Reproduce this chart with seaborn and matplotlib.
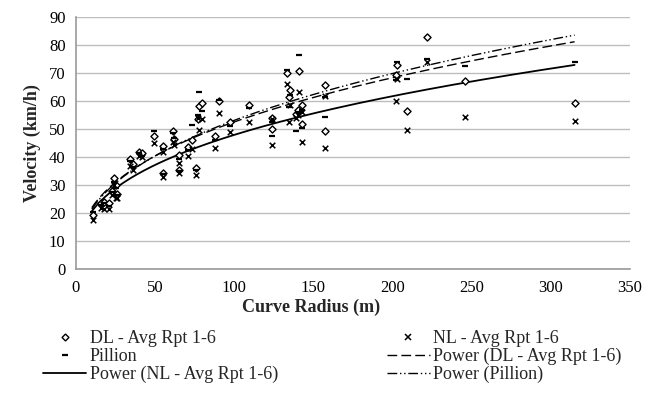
import numpy as np
import pandas as pd
import matplotlib
matplotlib.use("Agg")
import matplotlib.pyplot as plt
import seaborn as sns
from matplotlib.lines import Line2D

# ---- data ----
radius = [11, 16, 18, 21, 23, 24, 25, 26, 34, 36, 40, 42, 49, 55, 55, 61, 62, 65, 65,
          71, 73, 76, 77, 78, 79.5, 88, 90.5, 97, 109, 124, 124, 133, 134.7, 135.5,
          139, 140, 141, 143, 143, 157, 157, 202, 203, 209, 222, 246, 315]
dl = [19.2, 23.5, 24.0, 23.5, 28.0, 32.5, 30.0, 27.0, 39.5, 37.5, 42.0, 41.5, 47.5, 44.0, 34.5,
      49.5, 46.5, 40.8, 35.3, 43.8, 46.2, 36.3, 53.6, 58.4, 59.3, 47.4, 60.0, 52.5, 58.7,
      53.9, 50.0, 70.0, 61.4, 64.0, 55.5, 57.0, 70.6, 58.7, 51.9, 65.6, 49.2, 69.4, 73.0,
      56.5, 83.0, 67.0, 59.5]
nl = [17.5, 22.0, 21.5, 21.5, 26.5, 30.0, 25.5, 25.5, 37.0, 35.5, 40.5, 40.0, 45.0, 42.0, 33.0,
      45.5, 44.5, 38.0, 34.3, 40.5, 43.0, 33.8, 54.0, 49.7, 53.6, 43.2, 55.7, 48.8, 52.7,
      53.5, 44.4, 66.0, 52.7, 58.5, 54.0, 55.0, 63.2, 56.0, 45.4, 61.9, 43.4, 60.2, 67.9,
      49.7, 74.1, 54.3, 53.0]
pillion = [20.5, 23.0, 23.5, 22.5, 27.5, 31.0, 29.0, 26.5, 38.5, 36.5, 41.5, 40.5, 49.5, 43.0, 34.0,
           48.5, 47.0, 39.5, 35.0, 42.5, 51.5, 35.5, 55.0, 63.2, 56.5, 46.0, 60.5, 51.0, 57.5,
           52.5, 47.6, 71.0, 58.0, 62.0, 49.5, 56.0, 76.5, 57.0, 50.5, 61.5, 54.3, 67.5, 73.8,
           67.9, 75.0, 72.4, 73.8]

# power trendlines V = a * R^b  (a, b)
trend_dl = [9.2, 0.3785]
trend_nl = [8.93, 0.365]
trend_pillion = [8.66, 0.394]

x_ticks = [0, 50, 100, 150, 200, 250, 300, 350]
y_ticks = [0, 10, 20, 30, 40, 50, 60, 70, 80, 90]

# ---- plot ----
sns.set_style("white")
plt.rcParams['font.family'] = ['Liberation Serif', 'DejaVu Serif']

fig = plt.figure(figsize=(6.57, 3.94), dpi=100)
ax = fig.add_axes([76/657, 1-269.3/394, (630-76)/657, (269.3-17)/394])

pts = pd.DataFrame({"radius": radius, "dl": dl, "nl": nl, "pillion": pillion})

sns.scatterplot(data=pts, x="radius", y="dl", ax=ax, marker="D", s=13,
                facecolor="white", edgecolor="black", linewidth=1.0, zorder=4)
sns.scatterplot(data=pts, x="radius", y="nl", ax=ax, marker="x", s=16,
                color="black", linewidth=1.1, zorder=4)
sns.scatterplot(data=pts, x="radius", y="pillion", ax=ax, marker="_", s=22,
                color="black", linewidth=1.6, zorder=4)

rr = np.linspace(min(radius) - 1, max(radius), 300)
curves = pd.DataFrame({
    "r": rr,
    "dl": trend_dl[0] * rr ** trend_dl[1],
    "nl": trend_nl[0] * rr ** trend_nl[1],
    "p": trend_pillion[0] * rr ** trend_pillion[1],
})
sns.lineplot(data=curves, x="r", y="dl", ax=ax, color="black", lw=1.0,
             zorder=3).lines[-1].set_dashes([7, 3])
sns.lineplot(data=curves, x="r", y="nl", ax=ax, color="black", lw=1.3, zorder=3)
ln = sns.lineplot(data=curves, x="r", y="p", ax=ax, color="black", lw=1.0, zorder=3).lines[-1]
ln.set_dashes([7, 2, 1, 2, 1, 2])

ax.set_xlim(0, 350)
ax.set_ylim(0, 90)
ax.set_xticks(x_ticks)
ax.set_yticks(y_ticks)
ax.yaxis.grid(True, color="#bdbdbd", lw=1.0)
ax.xaxis.grid(False)
ax.set_axisbelow(True)
for s in ["top", "right"]:
    ax.spines[s].set_visible(False)
for s in ["left", "bottom"]:
    ax.spines[s].set_color("#999999")
    ax.spines[s].set_linewidth(1.2)
ax.tick_params(axis="both", labelsize=12, colors="#999999", labelcolor="black",
               direction="out", length=4, width=1)
ax.set_xlabel("Curve Radius (m)", fontsize=13, fontweight="bold")
ax.xaxis.set_label_coords((311 - 76) / 554, -0.118)
ax.set_ylabel("Velocity (km/h)", fontsize=13, fontweight="bold", labelpad=6)

handles = [
    Line2D([], [], marker="D", ls="none", markersize=3.5, markerfacecolor="white",
           markeredgecolor="black", markeredgewidth=1.0),
    Line2D([], [], marker="_", ls="none", markersize=5, color="black", markeredgewidth=1.6),
    Line2D([], [], color="black", lw=1.3),
    Line2D([], [], marker="x", ls="none", markersize=4, color="black", markeredgewidth=1.1),
    Line2D([], [], color="black", lw=1.0, dashes=[7, 3]),
    Line2D([], [], color="black", lw=1.0, dashes=[7, 2, 1, 2, 1, 2]),
]
labels = ["DL - Avg Rpt 1-6", "Pillion", "Power (NL - Avg Rpt 1-6)",
          "NL - Avg Rpt 1-6", "Power (DL - Avg Rpt 1-6)", "Power (Pillion)"]
fig.legend(handles, labels, ncol=2, loc="upper left", bbox_to_anchor=(43/657, 1-330/394),
           frameon=False, fontsize=13, handlelength=2.4, labelspacing=0.05,
           columnspacing=6.0, handletextpad=0.2, borderaxespad=0, borderpad=0)

fig.savefig("out.png", dpi=100)
